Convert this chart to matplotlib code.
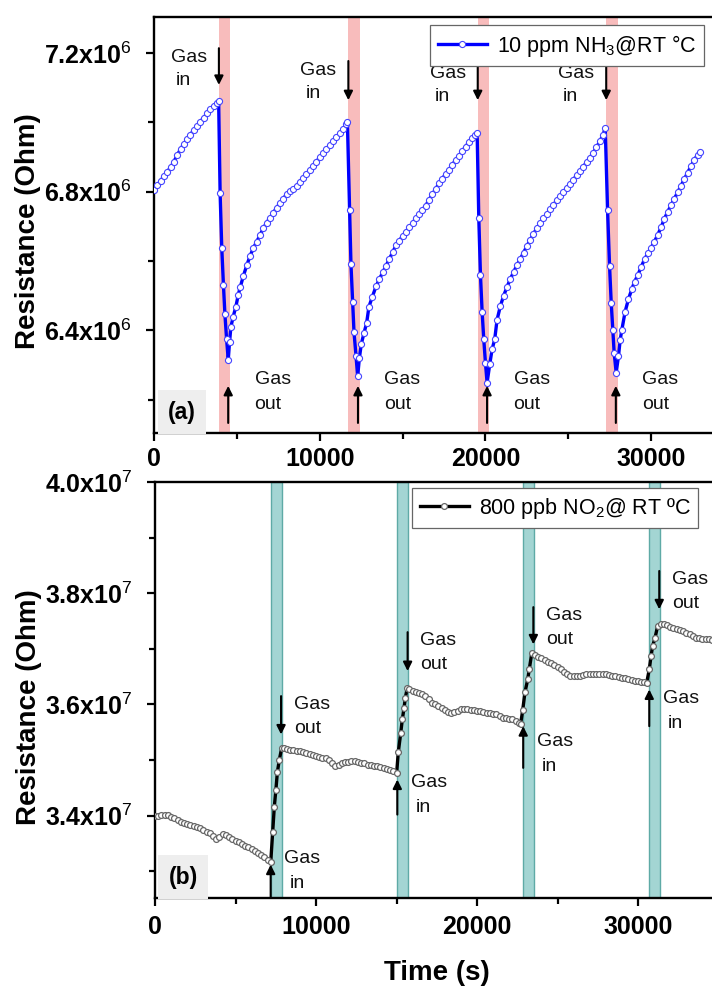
import numpy as np
import matplotlib
matplotlib.use("Agg")
import matplotlib.pyplot as plt
from matplotlib.ticker import MultipleLocator, FuncFormatter

plt.rcParams["font.family"] = ["Liberation Sans", "DejaVu Sans"]
plt.rcParams["mathtext.fontset"] = "custom"
plt.rcParams["mathtext.rm"] = "Liberation Sans"
plt.rcParams["mathtext.it"] = "Liberation Sans:italic"
plt.rcParams["mathtext.bf"] = "Liberation Sans:bold"

# ---- (a) 10 ppm NH3, resistance in 1e6 Ohm ----
# slow parts are on a 200 s grid, fast drops are listed point by point
nh3_t0 = np.arange(0, 3801, 200)
nh3_r0 = [6.805, 6.818, 6.832, 6.845, 6.858, 6.870, 6.887, 6.905, 6.923, 6.938,
          6.952, 6.965, 6.978, 6.990, 7.002, 7.014, 7.026, 7.038, 7.048, 7.057]

nh3_t1_fast = [3900, 3990, 4090, 4190, 4280, 4380, 4480, 4560, 4640, 4780, 4940, 5080]
nh3_r1_fast = [7.062, 6.795, 6.637, 6.531, 6.446, 6.375, 6.315, 6.367, 6.410, 6.440, 6.468, 6.502]
nh3_t1_slow = np.arange(5200, 11601, 200)
nh3_r1_slow = [6.524, 6.558, 6.588, 6.615, 6.638, 6.656, 6.675, 6.695, 6.711, 6.725,
               6.739, 6.754, 6.767, 6.780, 6.793, 6.802, 6.808, 6.817, 6.829, 6.840,
               6.851, 6.863, 6.874, 6.887, 6.899, 6.911, 6.923, 6.934, 6.946, 6.957,
               6.968, 6.980, 6.995]

nh3_t2_fast = [11670, 11800, 11885, 11990, 12070, 12190, 12290, 12390, 12510, 12670, 12830, 12970, 13175]
nh3_r2_fast = [7.002, 6.747, 6.591, 6.483, 6.394, 6.327, 6.267, 6.319, 6.361, 6.392, 6.421, 6.468, 6.497]
nh3_t2_slow = np.arange(13400, 19401, 200)
nh3_r2_slow = [6.527, 6.548, 6.567, 6.586, 6.606, 6.625, 6.645, 6.659, 6.672, 6.685,
               6.697, 6.710, 6.723, 6.735, 6.748, 6.760, 6.777, 6.793, 6.808, 6.824,
               6.838, 6.851, 6.864, 6.878, 6.891, 6.904, 6.917, 6.930, 6.943, 6.955,
               6.964]

nh3_t3_fast = [19500, 19600, 19700, 19800, 19900, 20000, 20100, 20260, 20400, 20560, 20700, 20900, 21100]
nh3_r3_fast = [6.968, 6.723, 6.560, 6.454, 6.374, 6.307, 6.249, 6.302, 6.345, 6.374, 6.430, 6.470, 6.500]
nh3_t3_slow = np.arange(21300, 27101, 200)
nh3_r3_slow = [6.525, 6.548, 6.568, 6.588, 6.606, 6.624, 6.643, 6.661, 6.678, 6.695,
               6.709, 6.723, 6.736, 6.749, 6.762, 6.775, 6.787, 6.799, 6.811, 6.823,
               6.835, 6.847, 6.859, 6.872, 6.885, 6.898, 6.912, 6.928, 6.945, 6.965]

nh3_t4_fast = [27230, 27370, 27490, 27590, 27690, 27770, 27890, 28030, 28130, 28230, 28430, 28630, 28840]
nh3_r4_fast = [6.983, 6.747, 6.586, 6.480, 6.401, 6.334, 6.278, 6.326, 6.372, 6.401, 6.454, 6.490, 6.520]
nh3_t4_slow = np.r_[np.arange(29000, 32801, 200), 32950]
nh3_r4_slow = [6.540, 6.560, 6.583, 6.605, 6.622, 6.639, 6.656, 6.676, 6.697, 6.722,
               6.742, 6.761, 6.780, 6.798, 6.817, 6.836, 6.855, 6.873, 6.892, 6.906,
               6.915]

nh3_gas_on = [3916, 11729, 19536, 27289]
nh3_gas_off = [4578, 12409, 20199, 27970]

# ---- (b) 800 ppb NO2, resistance in 1e7 Ohm ----
no2_t0 = np.arange(0, 7001, 200)
no2_r0 = [3.400, 3.400, 3.401, 3.402, 3.401, 3.398, 3.395, 3.392, 3.389, 3.387,
          3.385, 3.383, 3.381, 3.379, 3.377, 3.374, 3.371, 3.368, 3.363, 3.358,
          3.362, 3.367, 3.366, 3.361, 3.358, 3.355, 3.352, 3.349, 3.346, 3.343,
          3.340, 3.337, 3.333, 3.329, 3.325, 3.321]

no2_t1_fast = [7190, 7310, 7410, 7510, 7600, 7720, 7870]
no2_r1_fast = [3.317, 3.370, 3.416, 3.447, 3.478, 3.500, 3.522]
no2_t1_slow = np.arange(8000, 14801, 200)
no2_r1_slow = [3.521, 3.520, 3.519, 3.518, 3.517, 3.516, 3.514, 3.513, 3.511, 3.509,
               3.507, 3.506, 3.504, 3.503, 3.501, 3.495, 3.490, 3.492, 3.495, 3.496,
               3.497, 3.498, 3.498, 3.497, 3.495, 3.494, 3.492, 3.491, 3.490, 3.489,
               3.487, 3.486, 3.484, 3.482, 3.480]

no2_t2_fast = [15010, 15110, 15260, 15360, 15470, 15550, 15670]
no2_r2_fast = [3.477, 3.514, 3.548, 3.573, 3.594, 3.612, 3.630]
no2_t2_slow = np.arange(15800, 22601, 200)
no2_r2_slow = [3.628, 3.625, 3.622, 3.620, 3.618, 3.615, 3.609, 3.603, 3.600, 3.597,
               3.594, 3.590, 3.586, 3.585, 3.587, 3.589, 3.591, 3.591, 3.591, 3.590,
               3.590, 3.589, 3.588, 3.587, 3.585, 3.584, 3.583, 3.582, 3.579, 3.576,
               3.575, 3.574, 3.573, 3.570, 3.567]

no2_t3_fast = [22710, 22840, 22980, 23150, 23250, 23400]
no2_r3_fast = [3.565, 3.590, 3.622, 3.645, 3.664, 3.692]
no2_t3_slow = np.arange(23600, 30401, 200)
no2_r3_slow = [3.689, 3.686, 3.683, 3.680, 3.677, 3.674, 3.671, 3.667, 3.663, 3.659,
               3.655, 3.652, 3.651, 3.651, 3.652, 3.653, 3.654, 3.654, 3.654, 3.654,
               3.654, 3.654, 3.654, 3.653, 3.652, 3.651, 3.650, 3.648, 3.647, 3.646,
               3.644, 3.643, 3.642, 3.641, 3.640]

no2_t4_fast = [30540, 30700, 30810, 30910, 31060, 31220]
no2_r4_fast = [3.639, 3.663, 3.687, 3.705, 3.720, 3.741]
no2_t4_slow = np.arange(31400, 34601, 200)
no2_r4_slow = [3.744, 3.744, 3.742, 3.740, 3.738, 3.736, 3.734, 3.732, 3.729, 3.726,
               3.723, 3.720, 3.719, 3.718, 3.717, 3.717, 3.716]

no2_gas_on = [7185, 15050, 22870, 30700]
no2_gas_off = [7870, 15730, 23540, 31360]

# arrow / label heights (annotation layout)
nh3_in_top = [7.214, 7.177, 7.168, 7.168]
nh3_in_tip = [7.108, 7.064, 7.064, 7.064]
no2_in_base = [3.254, 3.402, 3.486, 3.561]
no2_in_tip = [3.312, 3.465, 3.561, 3.627]
no2_in_text = [3.3225, 3.459, 3.534, 3.611]
no2_out_top = [3.615, 3.730, 3.775, 3.840]
no2_out_tip = [3.546, 3.660, 3.708, 3.771]

nh3_t = np.concatenate([nh3_t0, nh3_t1_fast, nh3_t1_slow, nh3_t2_fast, nh3_t2_slow,
                        nh3_t3_fast, nh3_t3_slow, nh3_t4_fast, nh3_t4_slow])
nh3_r = np.concatenate([nh3_r0, nh3_r1_fast, nh3_r1_slow, nh3_r2_fast, nh3_r2_slow,
                        nh3_r3_fast, nh3_r3_slow, nh3_r4_fast, nh3_r4_slow]) * 1e6
no2_t = np.concatenate([no2_t0, no2_t1_fast, no2_t1_slow, no2_t2_fast, no2_t2_slow,
                        no2_t3_fast, no2_t3_slow, no2_t4_fast, no2_t4_slow])
no2_r = np.concatenate([no2_r0, no2_r1_fast, no2_r1_slow, no2_r2_fast, no2_r2_slow,
                        no2_r3_fast, no2_r3_slow, no2_r4_fast, no2_r4_slow]) * 1e7

fig = plt.figure(figsize=(7.12, 9.89), dpi=100)
# both panels run to 35000 s, the right part is cut off by the figure edge
ax1 = fig.add_axes([154 / 712, 1 - 433 / 989, 580 / 712, 416 / 989])
ax2 = fig.add_axes([155 / 712, 1 - 898 / 989, 563.5 / 712, 416 / 989])

arrow_kw = dict(arrowstyle="-|>", color="black", lw=1.5, mutation_scale=13, shrinkA=0, shrinkB=0)
txt_kw = dict(fontsize=14, ha="center", va="center", color="#111111")
leg_kw = dict(loc="upper left", borderaxespad=0, fontsize=15.5, fancybox=False,
              edgecolor="#666666", framealpha=1, borderpad=0.35, handlelength=2.3,
              handletextpad=0.45)

# panel (a)
for a, b in zip(nh3_gas_on, nh3_gas_off):
    ax1.axvspan(a, b, color="#f8bcbc", lw=0, zorder=0)
ax1.plot(nh3_t, nh3_r, color="#0000ff", lw=2.4, marker="o", ms=4.4, mfc="white",
         mec="#4444ff", mew=0.8, label=r"10 ppm NH$_3$@RT °C", zorder=3)
for i in range(4):
    x_in = nh3_gas_on[i]
    ax1.annotate("", xy=(x_in, nh3_in_tip[i] * 1e6), xytext=(x_in, nh3_in_top[i] * 1e6),
                 arrowprops=arrow_kw, zorder=4)
    ax1.text(x_in - 1810, (nh3_in_top[i] - 0.026) * 1e6, "Gas", **txt_kw)
    ax1.text(x_in - 2140, (nh3_in_top[i] - 0.093) * 1e6, "in", **txt_kw)
    x_out = nh3_gas_off[i] - 100
    ax1.annotate("", xy=(x_out, 6.240e6), xytext=(x_out, 6.133e6), arrowprops=arrow_kw, zorder=4)
    ax1.text(x_out + 2685, 6.257e6, "Gas", **txt_kw)
    ax1.text(x_out + 2410, 6.185e6, "out", **txt_kw)

ax1.set_xlim(0, 35000)
ax1.set_ylim(6.104e6, 7.304e6)
ax1.yaxis.set_major_locator(MultipleLocator(0.4e6))
ax1.yaxis.set_minor_locator(MultipleLocator(0.2e6))
ax1.yaxis.set_major_formatter(FuncFormatter(lambda v, p: f"{v / 1e6:.1f}x10$^6$"))
ax1.set_ylabel("Resistance (Ohm)", fontsize=20, fontweight="bold")
ax1.yaxis.set_label_coords(-0.195, 0.486)
ax1.text(0.048, 0.05, "(a)", transform=ax1.transAxes, fontsize=16.5, fontweight="bold",
         ha="center", va="center",
         bbox=dict(boxstyle="square,pad=0.45", facecolor="#eeeeee", edgecolor="none"))
leg1 = ax1.legend(bbox_to_anchor=(430 / 712, 1 - 25 / 989),
                  bbox_transform=fig.transFigure, **leg_kw)
leg1.get_frame().set_linewidth(0.9)

# panel (b)
for a, b in zip(no2_gas_on, no2_gas_off):
    ax2.axvspan(a, b, facecolor="#a3d5d3", edgecolor="#5eaaa6", lw=1, zorder=0)
ax2.plot(no2_t, no2_r, color="black", lw=2.4, marker="o", ms=4.2, mfc="white",
         mec="#666666", mew=0.9, label=r"800 ppb NO$_2$@ RT ºC", zorder=3)
for i in range(4):
    x_in = no2_gas_on[i]
    ax2.annotate("", xy=(x_in, no2_in_tip[i] * 1e7), xytext=(x_in, no2_in_base[i] * 1e7),
                 arrowprops=arrow_kw, zorder=4)
    ax2.text(x_in + 1950, no2_in_text[i] * 1e7, "Gas", **txt_kw)
    ax2.text(x_in + 1650, (no2_in_text[i] - 0.045) * 1e7, "in", **txt_kw)
    x_out = no2_gas_off[i] - 40
    ax2.annotate("", xy=(x_out, no2_out_tip[i] * 1e7), xytext=(x_out, no2_out_top[i] * 1e7),
                 arrowprops=arrow_kw, zorder=4)
    ax2.text(x_out + 1900, (no2_out_top[i] - 0.015) * 1e7, "Gas", **txt_kw)
    ax2.text(x_out + 1650, (no2_out_top[i] - 0.058) * 1e7, "out", **txt_kw)

ax2.set_xlim(0, 35000)
ax2.set_ylim(3.252e7, 4.0e7)
ax2.yaxis.set_major_locator(MultipleLocator(0.2e7))
ax2.yaxis.set_minor_locator(MultipleLocator(0.1e7))
ax2.yaxis.set_major_formatter(FuncFormatter(lambda v, p: f"{v / 1e7:.1f}x10$^7$"))
ax2.set_ylabel("Resistance (Ohm)", fontsize=20, fontweight="bold")
ax2.yaxis.set_label_coords(-0.201, 0.459)
ax2.set_xlabel("Time (s)", fontsize=20, fontweight="bold")
ax2.xaxis.set_label_coords(0.5, -0.149)
ax2.text(0.05, 0.05, "(b)", transform=ax2.transAxes, fontsize=16.5, fontweight="bold",
         ha="center", va="center",
         bbox=dict(boxstyle="square,pad=0.45", facecolor="#eeeeee", edgecolor="none"))
leg2 = ax2.legend(bbox_to_anchor=(412 / 712, 1 - 488 / 989),
                  bbox_transform=fig.transFigure, **leg_kw)
leg2.get_frame().set_linewidth(0.9)

for ax, xpad in ((ax1, 4), (ax2, 6.5)):
    ax.xaxis.set_major_locator(MultipleLocator(10000))
    ax.xaxis.set_minor_locator(MultipleLocator(5000))
    for s in ax.spines.values():
        s.set_linewidth(1.7)
    ax.tick_params(which="major", direction="out", length=6, width=1.6, labelsize=18)
    ax.tick_params(which="minor", direction="out", length=4.5, width=1.6)
    ax.tick_params(axis="y", which="major", pad=10)
    ax.tick_params(axis="x", which="major", pad=xpad)
    plt.setp(ax.get_xticklabels(), fontweight="bold")
    plt.setp(ax.get_yticklabels(), fontweight="bold")

fig.savefig("out.png", dpi=100)
plt.close(fig)
